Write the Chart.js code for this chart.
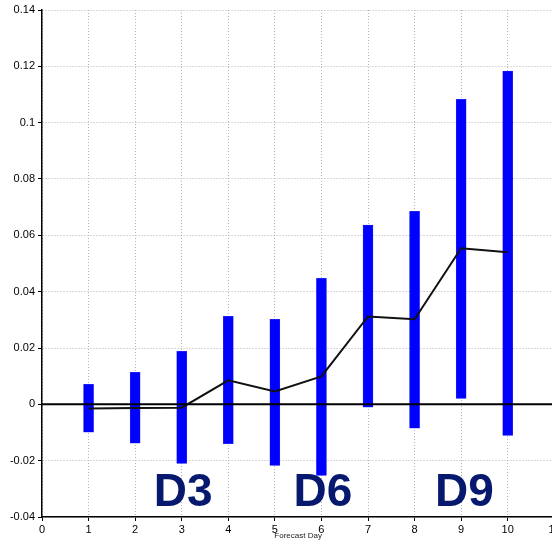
<!DOCTYPE html>
<html>
<head>
<meta charset="utf-8">
<script src="https://cdn.jsdelivr.net/npm/chart.js@4"></script>
<style>
  html, body { margin: 0; padding: 0; background: #fff; overflow: hidden; }
  #wrap { width: 562px; height: 541px; }
</style>
</head>
<body>
<div id="wrap"><canvas id="chart" width="562" height="541"></canvas></div>
<script>
// forecast days
const days = [1, 2, 3, 4, 5, 6, 7, 8, 9, 10];
// spread range per day (low / high)
const rangeLow = [-0.0099, -0.0138, -0.021, -0.014, -0.0217, -0.0252, -0.001, -0.0085, 0.0021, -0.011];
const rangeHigh = [0.0071, 0.0114, 0.0188, 0.0312, 0.0302, 0.0447, 0.0636, 0.0685, 0.1083, 0.1183];
// mean line
const meanValues = [-0.0015, -0.0013, -0.0012, 0.0085, 0.0046, 0.0099, 0.0312, 0.0302, 0.0554, 0.054];
// big labels under the bars
const dayLabels = ["D3", "D6", "D9"];
const dayLabelX = [3.03, 6.03, 9.07];
const dayLabelY = -0.0361;

const font = "'Liberation Sans', Arial, Helvetica, sans-serif";

// zero line and D labels
const extras = {
  id: "extras",
  afterDatasetsDraw(chart) {
    const { ctx, chartArea, scales } = chart;
    const y0 = scales.y.getPixelForValue(0);
    ctx.save();
    ctx.strokeStyle = "#000";
    ctx.lineWidth = 2;
    ctx.beginPath();
    ctx.moveTo(chartArea.left, y0);
    ctx.lineTo(chartArea.right, y0);
    ctx.stroke();
    ctx.restore();
  },
  afterDraw(chart) {
    const { ctx, scales } = chart;
    ctx.save();
    ctx.fillStyle = "#06196e";
    ctx.font = "bold 46px " + font;
    ctx.textAlign = "center";
    ctx.textBaseline = "alphabetic";
    dayLabels.forEach((t, i) => {
      ctx.fillText(t, scales.x.getPixelForValue(dayLabelX[i]), scales.y.getPixelForValue(dayLabelY));
    });
    ctx.restore();
  }
};

const ctx = document.getElementById("chart").getContext("2d");
new Chart(ctx, {
  type: "bar",
  data: {
    datasets: [
      {
        type: "line",
        label: "mean",
        data: days.map((d, i) => ({ x: d, y: meanValues[i] })),
        borderColor: "#111",
        borderWidth: 2,
        pointRadius: 0,
        tension: 0,
        order: 0
      },
      {
        label: "range",
        data: days.map((d, i) => ({ x: d, y: [rangeLow[i], rangeHigh[i]] })),
        backgroundColor: "#0000ff",
        borderColor: "#3a3af5",
        borderWidth: 0.5,
        borderSkipped: false,
        barThickness: 10,
        order: 1
      }
    ]
  },
  options: {
    responsive: false,
    animation: false,
    layout: { padding: { top: 10, right: 5, left: 0, bottom: 0 } },
    plugins: { legend: { display: false }, tooltip: { enabled: false } },
    scales: {
      x: {
        type: "linear",
        min: 0,
        max: 11,
        offset: false,
        afterFit: (s) => { s.height = 24; },
        ticks: { stepSize: 1, color: "#000", font: { family: font, size: 11 }, padding: 2, maxRotation: 0 },
        grid: { color: "#b4b4b4", offset: false, tickLength: 4, tickColor: "#000", tickBorderDash: [] },
        border: { color: "#000", width: 1.5, dash: [1, 2] },
        title: { display: true, text: "Forecast Day", color: "#222", font: { family: font, size: 8 }, padding: 0 }
      },
      y: {
        min: -0.04,
        max: 0.14,
        afterFit: (s) => { s.width = 42; },
        ticks: {
          stepSize: 0.02,
          color: "#000",
          font: { family: font, size: 11 },
          padding: 3,
          callback: (v) => String(Math.round(v * 100) / 100)
        },
        grid: { color: "#b4b4b4", tickLength: 4, tickColor: "#000", tickBorderDash: [] },
        border: { color: "#000", width: 1.5, dash: [1, 2] }
      }
    }
  },
  plugins: [extras]
});
</script>
</body>
</html>
